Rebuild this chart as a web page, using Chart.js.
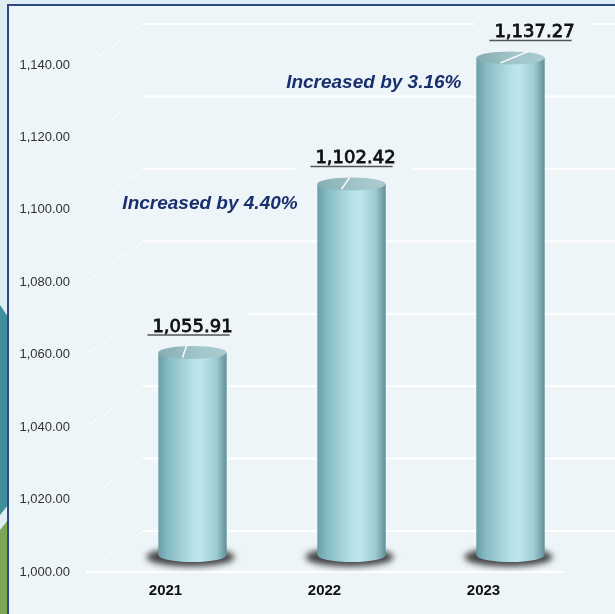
<!DOCTYPE html>
<html>
<head>
<meta charset="utf-8">
<script src="https://cdn.jsdelivr.net/npm/chart.js@4"></script>
<style>
  html, body { margin: 0; padding: 0; }
  body { width: 615px; height: 614px; overflow: hidden; background: #dfeef3; position: relative; }
  .strip { position: absolute; left: 0; width: 8px; }
  #teal { top: 0; height: 614px; background: #3f8f9b; clip-path: polygon(0 305px, 100% 317px, 100% 505px, 0 515px); }
  #green { top: 0; height: 614px; background: #7ea658; clip-path: polygon(0 530px, 100% 520px, 100% 614px, 0 614px); }
  #panel { position: absolute; left: 7px; top: 4px; right: 0; bottom: 0; background: #eef5f8;
           border-left: 2px solid #2e4a86; border-top: 2px solid #2e4a86; }
  #wrap { position: absolute; left: 0; top: 0; width: 615px; height: 614px; }
</style>
</head>
<body>
<div class="strip" id="teal"></div>
<div class="strip" id="green"></div>
<div id="panel"></div>
<div id="wrap"><canvas id="chart"></canvas></div>
<script>
const years = ["2021", "2022", "2023"];
const totals = [1055.91, 1102.42, 1137.27];
const yMin = 1000;
const yMax = 1140;
const yStep = 20;
const notes = ["Increased by 4.40%", "Increased by 3.16%"];

// where the growth notes sit, in category index / value units
const notePlace = [{ i: 0.28, v: 1101.6 }, { i: 1.31, v: 1135 }];
// horizontal nudge of each value label
const labelNudge = [0, 4, 24];

// oblique depth of the floor/back wall, bars sit halfway in
const DEPTH_X = 57;
const DEPTH_Y = -41;
const BAR_DX = 27;
const BAR_DY = -17;
const CAP_RY = 6.5;
const PANEL_BG = "#eef5f8";

function fmt(v) {
  return v.toLocaleString("en-US", { minimumFractionDigits: 2, maximumFractionDigits: 2 });
}

const wallPlugin = {
  id: "wall",
  beforeDatasetsDraw(chart) {
    const { ctx, chartArea, scales } = chart;
    const y = scales.y;
    ctx.save();
    y.ticks.forEach(t => {
      const py = y.getPixelForValue(t.value);
      // back wall line
      ctx.strokeStyle = "#ffffff";
      ctx.lineWidth = 2;
      ctx.setLineDash([]);
      ctx.beginPath();
      ctx.moveTo(chartArea.left + DEPTH_X, py + DEPTH_Y);
      ctx.lineTo(chart.width + 10, py + DEPTH_Y);
      ctx.stroke();
      // side wall diagonal
      ctx.strokeStyle = "rgba(255,255,255,0.85)";
      ctx.lineWidth = 1.1;
      ctx.setLineDash([3, 2]);
      ctx.beginPath();
      ctx.moveTo(chartArea.left, py);
      ctx.lineTo(chartArea.left + DEPTH_X, py + DEPTH_Y);
      ctx.stroke();
    });
    // front edge of the floor
    ctx.setLineDash([]);
    ctx.strokeStyle = "#ffffff";
    ctx.lineWidth = 2;
    ctx.beginPath();
    ctx.moveTo(chartArea.left, chartArea.bottom);
    ctx.lineTo(chartArea.right, chartArea.bottom);
    ctx.stroke();
    ctx.restore();
  }
};

function drawCylinder(ctx, cx, top, base, rx) {
  const ry = CAP_RY;
  // floor shadow
  ctx.save();
  ctx.filter = "blur(3px)";
  ctx.fillStyle = "rgba(35,35,35,0.85)";
  ctx.beginPath();
  ctx.ellipse(cx - 2, base + 2, rx + 10, ry + 3, 0, 0, Math.PI * 2);
  ctx.fill();
  ctx.restore();

  // body
  const g = ctx.createLinearGradient(cx - rx, 0, cx + rx, 0);
  g.addColorStop(0, "#6b9fa7");
  g.addColorStop(0.15, "#88bcc5");
  g.addColorStop(0.5, "#b4e0e7");
  g.addColorStop(0.62, "#bde7ee");
  g.addColorStop(0.85, "#9dcbd2");
  g.addColorStop(1, "#5f8f97");
  ctx.beginPath();
  ctx.moveTo(cx - rx, top);
  ctx.lineTo(cx - rx, base);
  ctx.ellipse(cx, base, rx, ry + 0.5, 0, Math.PI, 0, true);
  ctx.lineTo(cx + rx, top);
  ctx.closePath();
  ctx.fillStyle = g;
  ctx.fill();

  // cap
  const c = ctx.createLinearGradient(cx - rx, top, cx + rx, top);
  c.addColorStop(0, "#86adb2");
  c.addColorStop(0.6, "#a3c6ca");
  c.addColorStop(1, "#a9cbcf");
  ctx.beginPath();
  ctx.ellipse(cx, top, rx, ry, 0, 0, Math.PI * 2);
  ctx.fillStyle = c;
  ctx.fill();
}

const cylinderPlugin = {
  id: "cylinders",
  afterDatasetsDraw(chart) {
    const { ctx } = chart;
    const { x, y } = chart.scales;
    const meta = chart.getDatasetMeta(0);
    const floor = y.getPixelForValue(yMin);
    ctx.save();
    meta.data.forEach((bar, i) => {
      const cx = bar.x + BAR_DX;
      const top = y.getPixelForValue(totals[i]) + BAR_DY;
      const base = floor + BAR_DY;
      drawCylinder(ctx, cx, top, base, bar.width / 2);

      // value label with its box, underline and leader
      const text = fmt(totals[i]);
      ctx.font = '18px "DejaVu Sans"';
      const w = ctx.measureText(text).width;
      const lx = cx + labelNudge[i];
      const ly = top - 25.5;
      ctx.fillStyle = PANEL_BG;
      ctx.fillRect(lx - w / 2 - 20, ly - 19, w + 36, 32);

      ctx.strokeStyle = "#ffffff";
      ctx.lineWidth = 1.5;
      ctx.beginPath();
      ctx.moveTo(cx - 10, top + 5);
      ctx.lineTo(cx - 6 + labelNudge[i], top - CAP_RY);
      ctx.stroke();

      ctx.fillStyle = "#111111";
      ctx.strokeStyle = "#111111";
      ctx.lineWidth = 0.8;
      ctx.textAlign = "center";
      ctx.textBaseline = "middle";
      ctx.fillText(text, lx, ly);
      ctx.strokeText(text, lx, ly);

      ctx.strokeStyle = "#555555";
      ctx.lineWidth = 1.5;
      ctx.beginPath();
      ctx.moveTo(lx - w / 2 - 5, ly + 8);
      ctx.lineTo(lx + w / 2 - 3, ly + 8);
      ctx.stroke();
    });

    // growth notes
    ctx.font = 'italic bold 19px "Liberation Sans"';
    ctx.fillStyle = "#1a2f6e";
    ctx.textAlign = "center";
    ctx.textBaseline = "middle";
    notes.forEach((n, k) => {
      ctx.fillText(n, x.getPixelForValue(notePlace[k].i), y.getPixelForValue(notePlace[k].v));
    });
    ctx.restore();
  }
};

new Chart(document.getElementById("chart"), {
  type: "bar",
  data: {
    labels: years,
    datasets: [{
      data: totals,
      backgroundColor: "rgba(0,0,0,0)",
      borderWidth: 0,
      categoryPercentage: 1,
      barPercentage: 0.43
    }]
  },
  options: {
    responsive: true,
    maintainAspectRatio: false,
    animation: false,
    devicePixelRatio: 1,
    layout: { padding: { top: 65, right: 52, bottom: 0, left: 0 } },
    plugins: { legend: { display: false }, tooltip: { enabled: false } },
    scales: {
      x: {
        grid: { display: false, drawTicks: false },
        border: { display: false },
        ticks: { color: "#111", font: { family: "Liberation Sans", size: 15, weight: "bold" }, padding: 10 },
        afterFit(s) { s.height = 42; }
      },
      y: {
        min: yMin,
        max: yMax,
        grid: { display: false, drawTicks: false },
        border: { display: false },
        ticks: {
          stepSize: yStep,
          color: "#333",
          font: { family: "Liberation Sans", size: 13 },
          padding: 16,
          callback: v => fmt(v)
        },
        afterFit(s) { s.width = 86; }
      }
    }
  },
  plugins: [wallPlugin, cylinderPlugin]
});
</script>
</body>
</html>
